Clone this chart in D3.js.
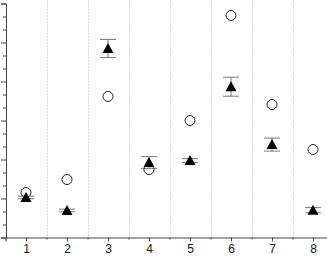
<!DOCTYPE html>
<html><head><meta charset="utf-8">
<script src="https://cdn.jsdelivr.net/npm/d3@7"></script>
<style>body{margin:0;background:#fff}svg{display:block}</style>
</head><body>
<script>
const categories = [1,2,3,4,5,6,7,8];
const circleValues = [3.46, 4.46, 10.85, 5.23, 9.0, 17.08, 10.23, 6.77];
const triangleValues = [3.08, 2.08, 14.54, 5.77, 5.92, 11.6, 7.15, 2.1];
const triangleErrors = [0.1, 0.1, 0.7, 0.45, 0.15, 0.73, 0.5, 0.2];
const xTickLabels = ["1","2","3","4","5","6","7","8"];

const W = 327, H = 258;
const svg = d3.select("body").append("svg").attr("width", W).attr("height", H);

const x = d3.scaleLinear().domain([0.5, 8.5]).range([5.5, 333.5]);
const y = d3.scaleLinear().domain([0, 18]).range([237.5, 3.5]);

// grid (dotted vertical at midpoints)
const mids = [1.5,2.5,3.5,4.5,5.5,6.5,7.5];
svg.append("g").selectAll("line").data(mids).join("line")
  .attr("x1", d => Math.round(x(d)) + 0.5).attr("x2", d => Math.round(x(d)) + 0.5)
  .attr("y1", 0).attr("y2", y(0))
  .attr("stroke", "#d8d8d8").attr("stroke-width", 1).attr("stroke-dasharray", "2,1");

// x axis
const xAxis = d3.axisBottom(x).tickValues(categories).tickFormat((d,i) => xTickLabels[i]).tickSize(4).tickPadding(3);
const gx = svg.append("g").attr("transform", `translate(0,${y(0)})`).call(xAxis);
gx.select(".domain").attr("stroke", "#444");
gx.selectAll(".tick line").attr("stroke", "#444");
gx.selectAll(".tick text").attr("font-family", "Liberation Sans, Arial, sans-serif").attr("font-size", 12).attr("fill", "#111");
const gxm = svg.append("g").attr("transform", `translate(0,${y(0)})`)
  .call(d3.axisBottom(x).tickValues(mids).tickFormat("").tickSize(2));
gxm.select(".domain").remove();
gxm.selectAll(".tick line").attr("stroke", "#444");

// y axis
const gy = svg.append("g").attr("transform", `translate(${x(0.5)+0.5},0)`)
  .call(d3.axisLeft(y).tickValues(d3.range(0, 19, 3)).tickFormat("").tickSize(5));
gy.select(".domain").attr("stroke", "#444");
gy.selectAll(".tick line").attr("stroke", "#444");
const gym = svg.append("g").attr("transform", `translate(${x(0.5)+0.5},0)`)
  .call(d3.axisLeft(y).tickValues(d3.range(0, 19, 1).filter(d => d % 3 !== 0)).tickFormat("").tickSize(3));
gym.select(".domain").remove();
gym.selectAll(".tick line").attr("stroke", "#444");

// error bars
const eb = svg.append("g");
categories.forEach((c, i) => {
  const cx = x(c), v = triangleValues[i], e = triangleErrors[i];
  eb.append("line").attr("x1", cx).attr("x2", cx).attr("y1", y(v+e)).attr("y2", y(v-e))
    .attr("stroke", "#777").attr("stroke-width", 1);
  [v+e, v-e].forEach(t => eb.append("line").attr("x1", cx-8).attr("x2", cx+8).attr("y1", y(t)).attr("y2", y(t))
    .attr("stroke", "#777").attr("stroke-width", 1));
});

// circles
svg.append("g").selectAll("circle").data(categories).join("circle")
  .attr("cx", d => x(d)).attr("cy", (d,i) => y(circleValues[i])).attr("r", 5)
  .attr("fill", "none").attr("stroke", "#222").attr("stroke-width", 1);

// triangles
svg.append("g").selectAll("path").data(categories).join("path")
  .attr("d", (d,i) => {
    const cx = x(d), cy = y(triangleValues[i]);
    return `M${cx},${cy-5.5}L${cx+5.5},${cy+4.5}L${cx-5.5},${cy+4.5}Z`;
  })
  .attr("fill", "#000");
</script>
</body></html>
